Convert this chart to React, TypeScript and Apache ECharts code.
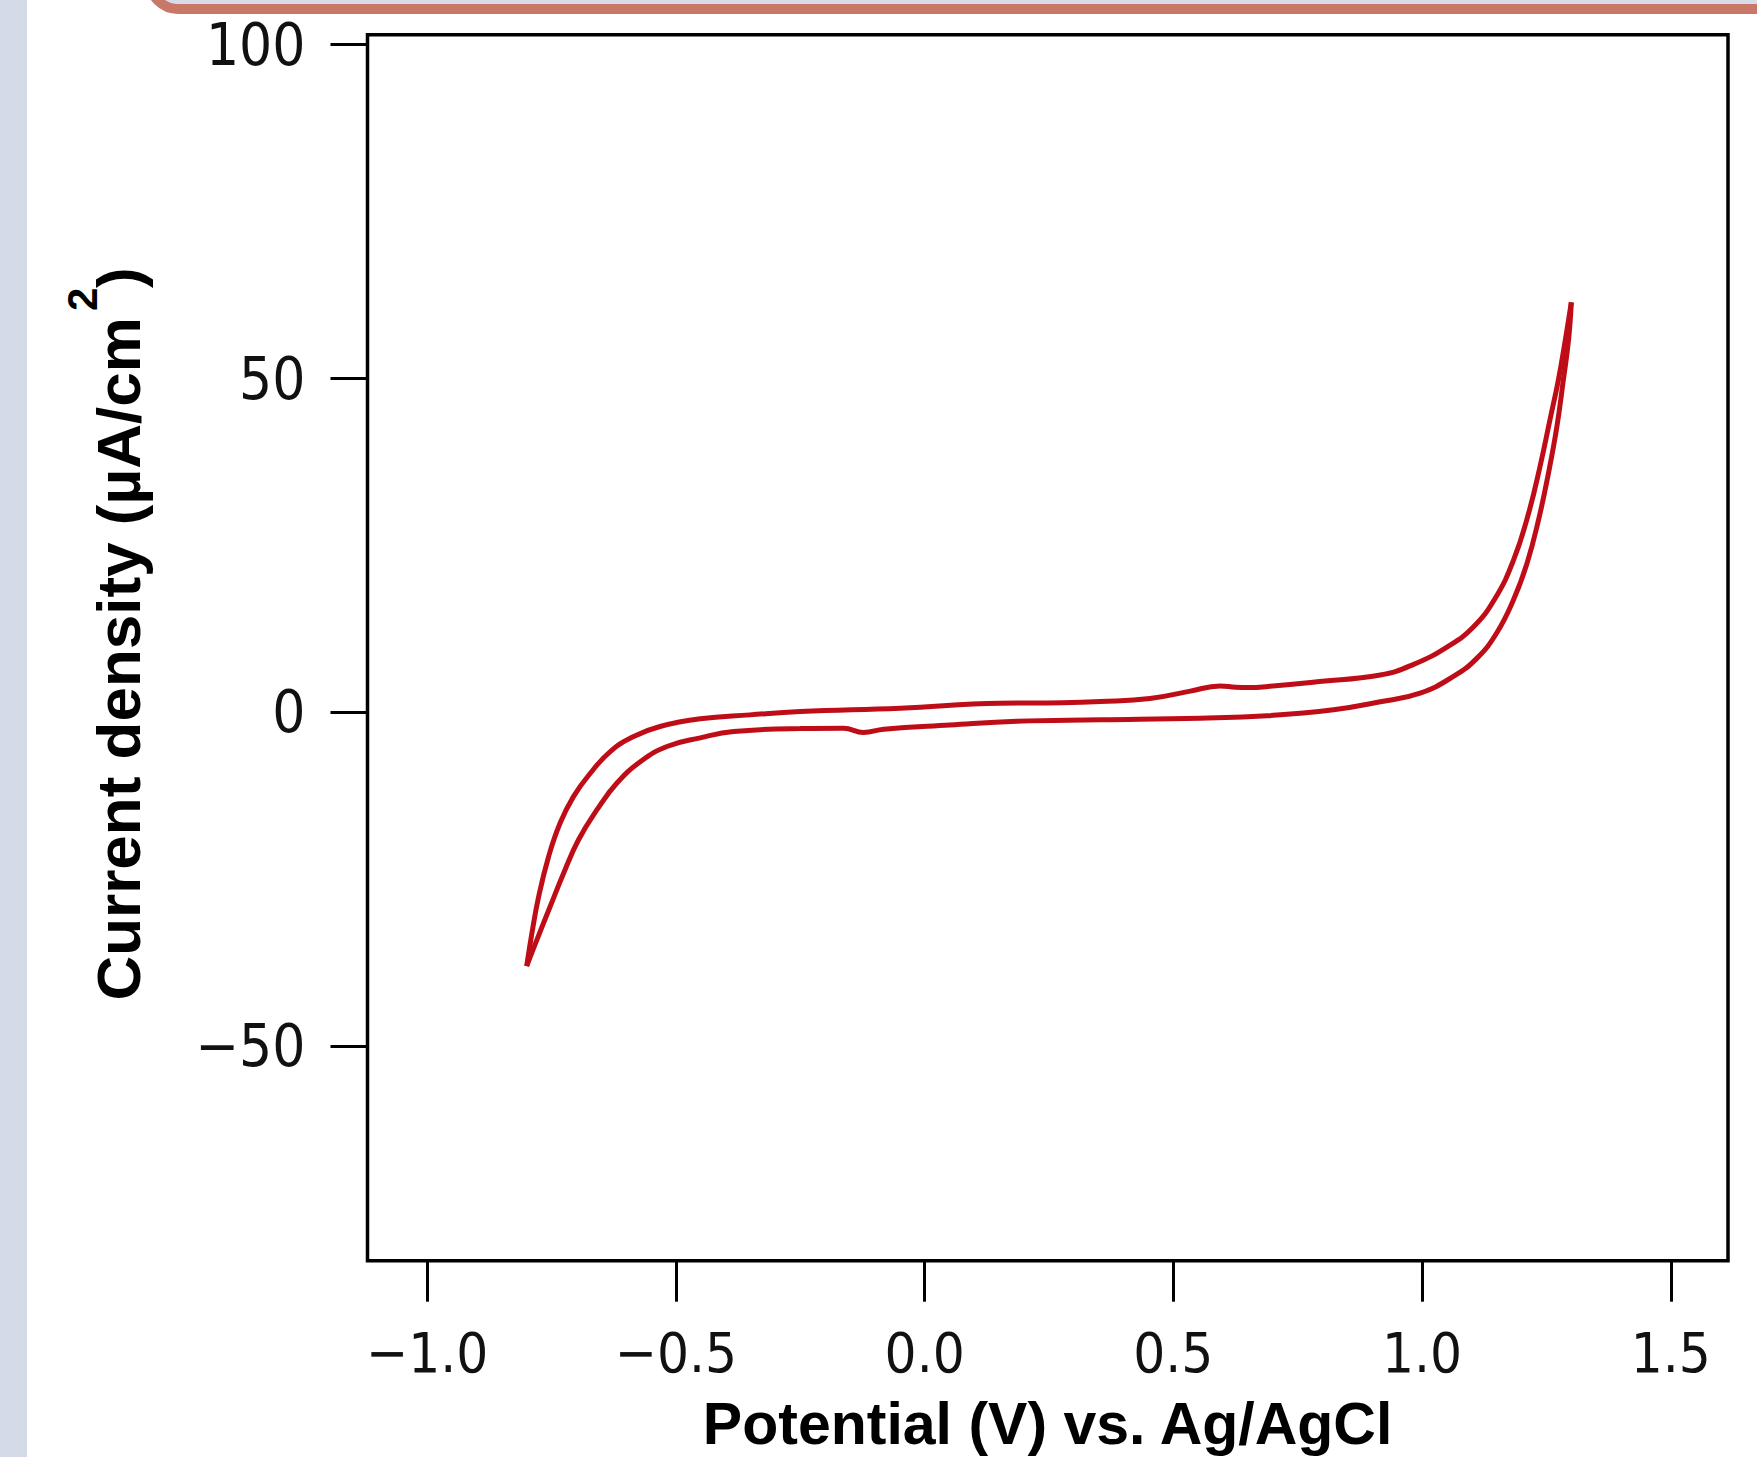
import React, { useEffect, useRef } from "react";
import * as echarts from "echarts";

// Forward (anodic) scan: upper branch, from -0.8 V to 1.3 V
const forwardX = [
  -0.8, -0.7895, -0.776, -0.756, -0.733, -0.706, -0.672, -0.632, -0.585, -0.532,
  -0.451, -0.351, -0.25, -0.049, 0.152, 0.276, 0.353, 0.453, 0.534, 0.594,
  0.625, 0.654, 0.69, 0.789, 0.916, 0.983, 1.05, 1.103, 1.147, 1.184,
  1.214, 1.237, 1.257, 1.274, 1.288, 1.3,
];
const forwardY = [
  -38.0, -33.05, -27.6, -21.6, -16.6, -12.6, -9.1, -5.85, -3.6, -2.1,
  -0.95, -0.36, 0.14, 0.64, 1.39, 1.45, 1.63, 2.1, 3.2, 3.98,
  3.78, 3.73, 3.9, 4.6, 5.6, 7.2, 9.8, 12.8, 17.1, 22.85,
  29.8, 36.8, 43.8, 49.8, 55.8, 61.4,
];

// Reverse (cathodic) scan: lower branch, from 1.3 V back to -0.8 V
const reverseX = [
  1.3, 1.2945, 1.284, 1.271, 1.254, 1.234, 1.211, 1.184, 1.15, 1.11,
  1.063, 0.996, 0.916, 0.822, 0.688, 0.554, 0.353, 0.185, 0.051, -0.082,
  -0.123, -0.163, -0.25, -0.384, -0.451, -0.518, -0.571, -0.619, -0.659, -0.696,
  -0.726, -0.753, -0.7795, -0.8,
];
const reverseY = [
  61.4, 55.8, 49.8, 42.8, 35.8, 28.8, 22.35, 16.9, 11.9, 8.1,
  5.4, 2.9, 1.6, 0.4, -0.5, -0.86, -1.1, -1.3, -1.86, -2.5,
  -3.0, -2.35, -2.4, -2.86, -3.8, -5.1, -7.35, -10.6, -14.6, -19.1,
  -24.1, -29.1, -34.05, -38.0,
];

const xTickValues = [-1.0, -0.5, 0.0, 0.5, 1.0, 1.5];
const yTickValues = [-50, 0, 50, 100];

const xTitle = "Potential (V) vs. Ag/AgCl";
const yTitleMain = "Current density (\u00b5A/cm";
const yTitleSup = "2";
const yTitleEnd = ")";

const zip = (xs: number[], ys: number[]) => xs.map((x, i) => [x, ys[i]]);
const minus = (s: string) => s.replace("-", "\u2212");

const tickFont = "'DejaVu Sans Condensed', 'DejaVu Sans', sans-serif";
const titleFont = "'Liberation Sans', Arial, sans-serif";
const red = "#bf0d18";

export default function App() {
  const ref = useRef<HTMLDivElement>(null);
  useEffect(() => {
    if (!ref.current) return;
    const chart = echarts.init(ref.current, undefined, { renderer: "svg" });
    const titleStyle = (text: string, size: number, align: string) => ({
      text,
      fontSize: size,
      fontWeight: "bold",
      fontFamily: titleFont,
      fill: "#000",
      align,
      textAlign: align,
      verticalAlign: "middle",
      textVerticalAlign: "middle",
    });
    const option: any = {
      animation: false,
      backgroundColor: "#ffffff",
      grid: {
        left: 367.5,
        top: 34.7,
        width: 1360.5,
        height: 1226,
        show: true,
        borderColor: "#000",
        borderWidth: 3.5,
        backgroundColor: "transparent",
        containLabel: false,
        outerBoundsMode: "none",
      },
      xAxis: {
        type: "value",
        min: -1.12,
        max: 1.615,
        axisLine: { show: false, onZero: false },
        splitLine: { show: false },
        axisTick: {
          show: true,
          inside: false,
          length: 41,
          customValues: xTickValues,
          lineStyle: { color: "#000", width: 3 },
        },
        axisLabel: {
          customValues: xTickValues,
          formatter: (v: number) => minus(v.toFixed(1)),
          fontSize: 56,
          fontFamily: tickFont,
          color: "#111",
          margin: 64,
        },
      },
      yAxis: {
        type: "value",
        min: -82.1,
        max: 101.5,
        axisLine: { show: false, onZero: false },
        splitLine: { show: false },
        axisTick: {
          show: true,
          inside: false,
          length: 37,
          customValues: yTickValues,
          lineStyle: { color: "#000", width: 3 },
        },
        axisLabel: {
          customValues: yTickValues,
          formatter: (v: number) => minus(String(v)),
          fontSize: 58,
          fontFamily: tickFont,
          color: "#111",
          margin: 62,
        },
      },
      graphic: [
        {
          type: "rect",
          z: 0,
          shape: { x: 0, y: 0, width: 27, height: 1457 },
          style: { fill: "#d4dae7" },
        },
        {
          type: "rect",
          z: 0,
          shape: { x: 150, y: -60, width: 1700, height: 69, r: 28 },
          style: { fill: "#d8dbe8", stroke: "#c97868", lineWidth: 10 },
        },
        {
          type: "text",
          x: 118.5,
          y: 1000.6,
          rotation: Math.PI / 2,
          style: titleStyle(yTitleMain, 62, "left"),
        },
        {
          type: "text",
          x: 82,
          y: 311,
          rotation: Math.PI / 2,
          style: titleStyle(yTitleSup, 42, "left"),
        },
        {
          type: "text",
          x: 118.5,
          y: 288,
          rotation: Math.PI / 2,
          style: titleStyle(yTitleEnd, 62, "left"),
        },
        {
          type: "text",
          x: 1047.6,
          y: 1424,
          style: titleStyle(xTitle, 59, "center"),
        },
      ],
      series: [
        {
          name: "Forward scan",
          type: "line",
          data: zip(forwardX, forwardY),
          showSymbol: false,
          symbol: "none",
          smooth: 0.45,
          lineStyle: { color: red, width: 5 },
          z: 3,
        },
        {
          name: "Reverse scan",
          type: "line",
          data: zip(reverseX, reverseY),
          showSymbol: false,
          symbol: "none",
          smooth: 0.45,
          lineStyle: { color: red, width: 5 },
          z: 3,
        },
      ],
    };
    chart.setOption(option);
    return () => chart.dispose();
  }, []);
  return (
    <div
      ref={ref}
      style={{ position: "absolute", left: 0, top: 0, width: 1757, height: 1457 }}
    />
  );
}
